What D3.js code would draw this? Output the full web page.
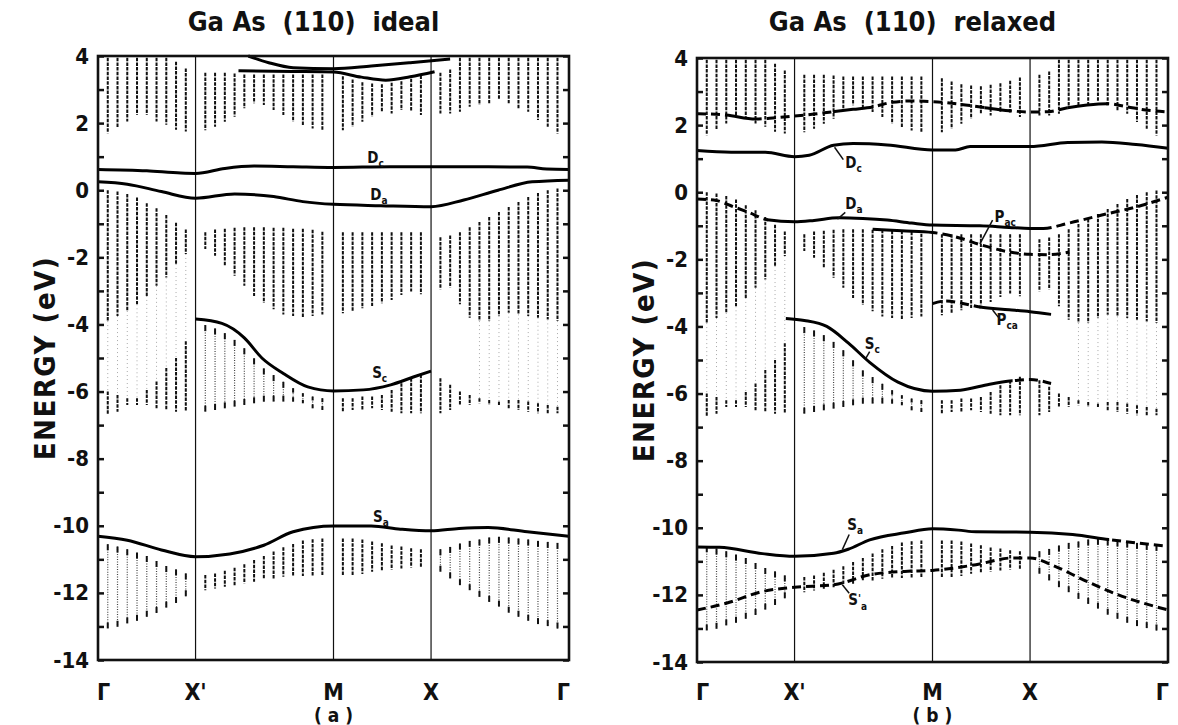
<!DOCTYPE html>
<html>
<head>
<meta charset="utf-8">
<script src="https://cdn.jsdelivr.net/npm/d3@7"></script>
<style>
  body { margin: 0; background: #fff; }
  text { font-family: "DejaVu Sans Condensed", "DejaVu Sans", sans-serif; font-stretch: condensed; font-weight: bold; fill: #111; }
</style>
</head>
<body>
<svg id="chart" width="1178" height="725"></svg>
<script>
// symmetry points along the (110) surface Brillouin zone path
const symK = [0, 1, 2.414, 3.414, 4.828];
const symLabels = ["Γ", "X'", "M", "X", "Γ"];
const energyTicks = [4, 3, 2, 1, 0, -1, -2, -3, -4, -5, -6, -7, -8, -9, -10, -11, -12, -13, -14];

// k positions of the projected bulk band stripes
const stripeK = [0.1, 0.2, 0.3, 0.4, 0.5, 0.6, 0.7, 0.8, 0.9,
  1.1, 1.2, 1.3, 1.4, 1.5, 1.6, 1.7, 1.8, 1.9, 2.0, 2.1, 2.2, 2.3,
  2.51, 2.61, 2.71, 2.81, 2.91, 3.01, 3.11, 3.21, 3.31,
  3.51, 3.61, 3.71, 3.81, 3.91, 4.01, 4.11, 4.21, 4.31, 4.41, 4.51, 4.61, 4.71];

// projected bulk bands: upper / lower edge at each stripe (eV)
const condHi = [3.95, 3.95, 3.95, 3.95, 3.95, 3.95, 3.95, 3.83, 3.63,
  3.5, 3.5, 3.5, 3.48, 3.45, 3.45, 3.45, 3.45, 3.45, 3.45, 3.45, 3.45, 3.45,
  3.4, 3.3, 3.22, 3.18, 3.16, 3.2, 3.25, 3.32, 3.42,
  3.5, 3.6, 3.95, 3.95, 3.95, 3.95, 3.95, 3.95, 3.95, 3.95, 3.95, 3.95, 3.95];
const condLo = [1.7, 1.85, 2.05, 2.25, 2.25, 2.05, 1.95, 1.8, 1.75,
  1.79, 1.89, 2.04, 2.19, 2.44, 2.59, 2.54, 2.39, 2.24, 2.04, 1.94, 1.84, 1.79,
  1.79, 1.89, 2.04, 2.19, 2.34, 2.29, 2.39, 2.34, 2.24,
  2.29, 2.29, 2.34, 2.49, 2.54, 2.59, 2.69, 2.59, 2.44, 2.34, 2.09, 1.89, 1.69];

const v1Hi = [0.0, -0.04, -0.11, -0.22, -0.39, -0.54, -0.74, -0.97, -1.17,
  -1.25, -1.17, -1.15, -1.12, -1.1, -1.1, -1.1, -1.12, -1.12, -1.15, -1.15, -1.18, -1.24,
  -1.25, -1.25, -1.25, -1.25, -1.25, -1.25, -1.25, -1.25, -1.25,
  -1.4, -1.35, -1.25, -1.1, -0.95, -0.8, -0.65, -0.5, -0.35, -0.2, -0.08, 0.0, 0.05];
const v1Lo = [-3.9, -3.75, -3.6, -3.4, -3.15, -2.85, -2.6, -2.2, -1.9,
  -1.75, -1.95, -2.25, -2.55, -2.85, -3.15, -3.35, -3.55, -3.7, -3.75, -3.8, -3.75, -3.7,
  -3.67, -3.62, -3.52, -3.45, -3.37, -3.27, -3.12, -3.02, -3.1,
  -2.95, -2.9, -3.4, -3.8, -3.9, -3.9, -3.75, -3.65, -3.7, -3.75, -3.8, -3.85, -3.9];

const v2Hi = [-6.0, -6.1, -6.2, -6.2, -5.95, -5.7, -5.3, -5.0, -4.5,
  -4.02, -4.12, -4.26, -4.46, -4.71, -5.01, -5.31, -5.51, -5.71, -5.9, -6.05, -6.15, -6.2,
  -6.2, -6.2, -6.15, -6.15, -6.1, -5.95, -5.75, -5.6, -5.5,
  -5.6, -5.8, -6.0, -6.1, -6.2, -6.25, -6.3, -6.25, -6.25, -6.3, -6.35, -6.4, -6.45];
const v2Lo = [-6.7, -6.6, -6.4, -6.4, -6.4, -6.5, -6.55, -6.6, -6.6,
  -6.6, -6.55, -6.5, -6.45, -6.4, -6.35, -6.3, -6.3, -6.3, -6.3, -6.35, -6.5, -6.55,
  -6.6, -6.55, -6.55, -6.5, -6.55, -6.6, -6.65, -6.65, -6.65,
  -6.65, -6.55, -6.4, -6.4, -6.35, -6.4, -6.4, -6.5, -6.55, -6.6, -6.65, -6.65, -6.65];

const v3Hi = [-10.55, -10.62, -10.7, -10.8, -10.9, -11.05, -11.2, -11.3, -11.42,
  -11.47, -11.42, -11.34, -11.25, -11.15, -11.02, -10.9, -10.77, -10.64, -10.54, -10.44, -10.4, -10.38,
  -10.38, -10.38, -10.41, -10.47, -10.52, -10.59, -10.62, -10.67, -10.7,
  -10.7, -10.63, -10.53, -10.45, -10.41, -10.35, -10.33, -10.35, -10.38, -10.41, -10.45, -10.48, -10.51];
const v3Lo = [-13.06, -13.01, -12.91, -12.83, -12.71, -12.6, -12.44, -12.3, -12.1,
  -11.92, -11.87, -11.82, -11.77, -11.72, -11.67, -11.57, -11.57, -11.52, -11.5, -11.5, -11.5, -11.47,
  -11.47, -11.47, -11.44, -11.37, -11.34, -11.3, -11.27, -11.24, -11.22,
  -11.37, -11.57, -11.77, -11.92, -12.12, -12.27, -12.41, -12.59, -12.71, -12.83, -12.93, -12.99, -13.06];

// surface state bands, ideal surface: [k, E]
const t1Ideal = [[1.44, 3.56], [2.0, 3.54], [2.414, 3.52], [2.7, 3.37], [2.95, 3.28], [3.2, 3.38], [3.45, 3.53]];
const t2Ideal = [[1.54, 4.0], [1.75, 3.8], [2.0, 3.65], [2.414, 3.62], [2.8, 3.7], [3.2, 3.8], [3.61, 3.91]];
const dcIdeal = [[0, 0.62], [0.5, 0.58], [0.85, 0.51], [1.0, 0.5], [1.3, 0.65], [1.6, 0.72], [2.0, 0.7], [2.414, 0.68],
  [3.0, 0.7], [3.414, 0.7], [4.0, 0.7], [4.4, 0.69], [4.6, 0.63], [4.828, 0.62]];
const daIdeal = [[0, 0.25], [0.3, 0.18], [0.65, -0.04], [1.0, -0.24], [1.4, -0.11], [1.8, -0.19], [2.1, -0.34], [2.414, -0.42],
  [2.9, -0.46], [3.414, -0.49], [3.75, -0.29], [4.1, 0.0], [4.45, 0.25], [4.828, 0.3]];
const scIdeal = [[1, -3.84], [1.27, -3.97], [1.5, -4.4], [1.68, -5.0], [1.9, -5.46], [2.15, -5.86], [2.414, -5.98],
  [2.72, -5.95], [3.0, -5.8], [3.24, -5.56], [3.414, -5.39]];
const saIdeal = [[0, -10.31], [0.3, -10.43], [0.65, -10.72], [1, -10.92], [1.35, -10.84], [1.7, -10.58], [2.0, -10.18],
  [2.414, -10.01], [2.8, -10.01], [3.1, -10.1], [3.414, -10.15], [3.7, -10.08], [4.0, -10.05], [4.4, -10.18], [4.828, -10.31]];

// surface state bands, relaxed surface
const uRelaxed = [[0, 2.34], [0.3, 2.3], [0.6, 2.18], [0.8, 2.22], [1.0, 2.27], [1.2, 2.33], [1.4, 2.4], [1.6, 2.47],
  [1.8, 2.54], [2.0, 2.68], [2.2, 2.72], [2.414, 2.7], [2.7, 2.62], [2.95, 2.52], [3.2, 2.43], [3.414, 2.39],
  [3.6, 2.4], [3.8, 2.52], [4.0, 2.6], [4.2, 2.64], [4.4, 2.55], [4.6, 2.45], [4.828, 2.39]];
const dcRelaxed = [[0, 1.24], [0.35, 1.19], [0.7, 1.19], [1.0, 1.06], [1.15, 1.1], [1.4, 1.4], [1.6, 1.45], [1.95, 1.41],
  [2.414, 1.26], [2.65, 1.26], [2.8, 1.36], [3.414, 1.36], [3.8, 1.48], [4.15, 1.5], [4.5, 1.42], [4.828, 1.31]];
const daRelaxed = [[0, -0.2], [0.2, -0.25], [0.38, -0.44], [0.53, -0.6], [0.72, -0.82], [1.0, -0.88], [1.2, -0.84],
  [1.45, -0.76], [1.7, -0.78], [1.95, -0.83], [2.2, -0.92], [2.414, -0.98], [2.9, -1.0], [3.2, -1.05], [3.414, -1.08],
  [3.55, -1.08], [3.8, -0.93], [4.15, -0.68], [4.5, -0.44], [4.828, -0.15]];
const pacRelaxed = [[1.8, -1.1], [2.1, -1.15], [2.414, -1.2], [2.7, -1.37], [2.9, -1.56], [3.2, -1.78], [3.414, -1.85],
  [3.6, -1.86], [3.82, -1.78]];
const pcaRelaxed = [[2.414, -3.32], [2.55, -3.24], [2.7, -3.3], [2.9, -3.42], [3.2, -3.5], [3.414, -3.56], [3.63, -3.64]];
const scRelaxed = [[0.91, -3.76], [1.1, -3.82], [1.33, -4.0], [1.55, -4.49], [1.77, -5.07], [2.06, -5.66], [2.414, -5.93],
  [2.7, -5.9], [3.0, -5.72], [3.23, -5.62], [3.414, -5.58], [3.63, -5.7]];
const saRelaxed = [[0, -10.57], [0.23, -10.58], [0.67, -10.77], [1.0, -10.85], [1.4, -10.76], [1.55, -10.64], [1.77, -10.36],
  [2.13, -10.15], [2.414, -10.03], [2.68, -10.07], [2.86, -10.12], [3.414, -10.13], [3.85, -10.2], [4.22, -10.35],
  [4.5, -10.45], [4.828, -10.55]];
const sa2Relaxed = [[0, -12.45], [0.3, -12.25], [0.67, -11.9], [1.0, -11.77], [1.4, -11.7], [1.77, -11.4], [2.13, -11.3],
  [2.414, -11.27], [2.86, -11.1], [3.23, -10.9], [3.414, -10.9], [3.67, -11.15], [3.96, -11.55], [4.32, -12.0], [4.828, -12.45]];

// how each bulk band is drawn in each of the four path segments
const bulkBands = [
  { hi: condHi, lo: condLo, style: ["dark", "dark", "dark", "dark"] },
  { hi: v1Hi, lo: v1Lo, style: ["dark", "dark", "dark", "dark"] },
  { hi: v1Lo, lo: v2Hi, style: ["faint", null, null, "faint"], minK: [0, 0, 0, 3.85] },
  { hi: v2Hi, lo: v2Lo, style: ["dark", "light", "dark", "dark"] },
  { hi: v3Hi, lo: v3Lo, style: ["light", "dark", "dark", "light"] }
];

const panels = [
  {
    x0: 98, x1: 569, y0: 56, y1: 660, title: "Ga As  (110)  ideal", tag: "( a )",
    lines: [
      { pts: t1Ideal }, { pts: t2Ideal }, { pts: dcIdeal }, { pts: daIdeal }, { pts: scIdeal }, { pts: saIdeal }
    ],
    labels: [
      { k: 2.76, e: 0.81, t: "D", s: "c" },
      { k: 2.79, e: -0.29, t: "D", s: "a" },
      { k: 2.81, e: -5.6, t: "S", s: "c" },
      { k: 2.82, e: -9.89, t: "S", s: "a" }
    ]
  },
  {
    x0: 697, x1: 1168, y0: 58, y1: 662, title: "Ga As  (110)  relaxed", tag: "( b )",
    lines: [
      { pts: uRelaxed, dashed: [[0, 0.3], [0.6, 1.4], [1.8, 2.95], [3.2, 3.8], [4.2, 4.828]] },
      { pts: dcRelaxed },
      { pts: daRelaxed, dashed: [[0, 0.72], [3.55, 4.828]] },
      { pts: pacRelaxed, dashed: [[2.414, 3.82]] },
      { pts: pcaRelaxed, dashed: [[2.414, 2.9]] },
      { pts: scRelaxed, dashed: [[3.23, 3.63]] },
      { pts: saRelaxed, dashed: [[4.22, 4.828]] },
      { pts: sa2Relaxed, dashed: [[0, 4.828]] }
    ],
    labels: [
      { k: 1.52, e: 0.72, t: "D", s: "c", lead: [[1.41, 1.34], [1.5, 0.97]] },
      { k: 1.52, e: -0.5, t: "D", s: "a", lead: [[1.44, -0.8], [1.52, -0.6]] },
      { k: 3.05, e: -0.88, t: "P", s: "ac", lead: [[3.03, -0.83], [2.9, -1.54]] },
      { k: 3.07, e: -3.95, t: "P", s: "ca", lead: [[3.03, -3.51], [3.09, -3.73]] },
      { k: 1.72, e: -4.68, t: "S", s: "c", lead: [[1.77, -4.75], [1.73, -4.95]] },
      { k: 1.54, e: -10.08, t: "S", s: "a", lead: [[1.56, -10.2], [1.49, -10.65]] },
      { k: 1.55, e: -12.3, t: "S", s: "a", prime: true, lead: [[1.49, -11.7], [1.56, -11.95]] }
    ]
  }
];

const svg = d3.select("#chart");
const defs = svg.append("defs");

function drawStripe(g, x, yTop, yBot, style) {
  if (style === "dark") {
    g.append("line").attr("x1", x).attr("x2", x).attr("y1", yTop).attr("y2", yBot)
      .attr("stroke", "#111").attr("stroke-width", 2).attr("stroke-dasharray", "3.5,1.2");
  } else if (style === "light") {
    g.append("line").attr("x1", x).attr("x2", x).attr("y1", yTop).attr("y2", yBot)
      .attr("stroke", "#444").attr("stroke-width", 1.2).attr("stroke-dasharray", "1,1.5");
    let cap = Math.min(6, (yBot - yTop) / 3);
    [[yTop, yTop + cap], [yBot - cap, yBot]].forEach(c => {
      g.append("line").attr("x1", x).attr("x2", x).attr("y1", c[0]).attr("y2", c[1])
        .attr("stroke", "#111").attr("stroke-width", 2);
    });
  } else if (style === "faint") {
    g.append("line").attr("x1", x).attr("x2", x).attr("y1", yTop).attr("y2", yBot)
      .attr("stroke", "#aaa").attr("stroke-width", 1).attr("stroke-dasharray", "1,3");
  }
}

panels.forEach((p, pi) => {
  let x = d3.scaleLinear().domain([0, 4.828]).range([p.x0, p.x1]);
  let y = d3.scaleLinear().domain([-14, 4]).range([p.y1, p.y0]);
  let g = svg.append("g");

  // title and panel tag
  g.append("text").attr("x", (p.x0 + p.x1) / 2 - 20).attr("y", 31)
    .attr("text-anchor", "middle").style("font-size", "27px").style("white-space", "pre").text(p.title);
  g.append("text").attr("x", x(2.414)).attr("y", 722)
    .attr("text-anchor", "middle").style("font-size", "19px").style("white-space", "pre").text(p.tag);

  // y axis label
  g.append("text")
    .attr("transform", "translate(" + (p.x0 - 53) + "," + ((p.y0 + p.y1) / 2) + ") rotate(-90)")
    .attr("text-anchor", "middle").attr("dy", "0.35em")
    .style("font-size", "29px").style("letter-spacing", "1.5px").text("ENERGY (eV)");

  // projected bulk bands
  let bulk = g.append("g");
  bulkBands.forEach(b => {
    stripeK.forEach((k, i) => {
      let seg = Math.min(3, d3.bisectRight(symK, k) - 1);
      let style = b.style[seg];
      if (!style) return;
      if (b.minK && k < b.minK[seg]) return;
      let hi = b.hi[i], lo = b.lo[i];
      if (hi == null || lo == null || hi <= lo) return;
      drawStripe(bulk, x(k), y(hi), y(lo), style);
    });
  });

  // symmetry lines
  g.selectAll(".sym").data(symK.slice(1, 4)).enter().append("line")
    .attr("x1", d => x(d)).attr("x2", d => x(d))
    .attr("y1", p.y0).attr("y2", p.y1)
    .attr("stroke", "#111").attr("stroke-width", 1.2);

  // surface state bands
  let line = d3.line().x(d => x(d[0])).y(d => y(d[1])).curve(d3.curveMonotoneX);
  p.lines.forEach((l, li) => {
    let kMin = l.pts[0][0], kMax = l.pts[l.pts.length - 1][0];
    let dashed = l.dashed || [];
    let solid = [];
    let cur = kMin;
    dashed.forEach(r => {
      if (r[0] > cur) solid.push([cur, r[0]]);
      cur = Math.max(cur, r[1]);
    });
    if (cur < kMax) solid.push([cur, kMax]);

    [["s", solid, null], ["d", dashed, "9,5"]].forEach(part => {
      if (!part[1].length) return;
      let id = "clip" + pi + "-" + li + part[0];
      let cp = defs.append("clipPath").attr("id", id);
      part[1].forEach(r => {
        cp.append("rect").attr("x", x(r[0]) - 0.5).attr("width", x(r[1]) - x(r[0]) + 1)
          .attr("y", p.y0 - 20).attr("height", p.y1 - p.y0 + 40);
      });
      g.append("path").datum(l.pts).attr("d", line)
        .attr("fill", "none").attr("stroke", "#000").attr("stroke-width", 3)
        .attr("stroke-dasharray", part[2]).attr("clip-path", "url(#" + id + ")");
    });
  });

  // labels
  p.labels.forEach(lb => {
    if (lb.lead) {
      g.append("line")
        .attr("x1", x(lb.lead[0][0])).attr("y1", y(lb.lead[0][1]))
        .attr("x2", x(lb.lead[1][0])).attr("y2", y(lb.lead[1][1]))
        .attr("stroke", "#111").attr("stroke-width", 1.5);
    }
    let t = g.append("text").attr("x", x(lb.k)).attr("y", y(lb.e)).style("font-size", "15px");
    t.append("tspan").text(lb.t);
    if (lb.prime) {
      t.append("tspan").attr("dy", -3).style("font-size", "11px").text("'");
      t.append("tspan").attr("dy", 8).style("font-size", "10px").text(lb.s);
    } else {
      t.append("tspan").attr("dy", 4).style("font-size", "10px").text(lb.s);
    }
  });

  // energy axis: inward ticks on both sides
  let fmt = d => (d % 2 === 0 ? (d < 0 ? "-" + Math.abs(d) : "" + d) : "");
  let left = g.append("g").attr("transform", "translate(" + p.x0 + ",0)")
    .call(d3.axisLeft(y).tickValues(energyTicks).tickSize(-6).tickPadding(9).tickFormat(fmt));
  left.select(".domain").remove();
  left.selectAll("line").attr("stroke", "#111").attr("stroke-width", 2.5);
  left.selectAll("text").attr("font-family", null).attr("font-size", null)
    .style("font-size", "22px").attr("fill", "#111");

  let right = g.append("g").attr("transform", "translate(" + p.x1 + ",0)")
    .call(d3.axisRight(y).tickValues(energyTicks).tickSize(-6).tickFormat(""));
  right.select(".domain").remove();
  right.selectAll("line").attr("stroke", "#111").attr("stroke-width", 2.5);

  // frame
  g.append("rect").attr("x", p.x0).attr("y", p.y0)
    .attr("width", p.x1 - p.x0).attr("height", p.y1 - p.y0)
    .attr("fill", "none").attr("stroke", "#111").attr("stroke-width", 2.6);

  // k-path labels
  g.selectAll(".klab").data(symK).enter().append("text")
    .attr("x", (d, i) => i === 0 ? p.x0 - 1 : (i === 4 ? p.x1 + 1 : x(d)))
    .attr("y", 700)
    .attr("text-anchor", (d, i) => i === 0 ? "start" : (i === 4 ? "end" : "middle"))
    .style("font-size", "23px")
    .text((d, i) => symLabels[i]);
});
</script>
</body>
</html>
